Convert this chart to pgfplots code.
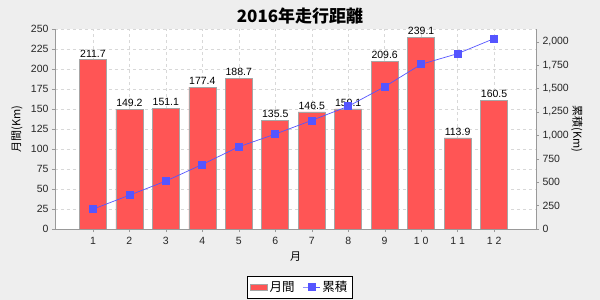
\documentclass[border=0pt]{standalone}
\usepackage{fontspec}
\setmainfont{Liberation Sans}
\newfontfamily\jp{Noto Sans CJK JP}
\usepackage{pgfplots}
\pgfplotsset{compat=1.18}
\definecolor{bg}{HTML}{EEEEEE}
\definecolor{barred}{HTML}{FF5555}
\definecolor{lineblue}{HTML}{5555FF}
\definecolor{axgray}{HTML}{999999}
\definecolor{gridgray}{HTML}{D8D8D8}
\begin{document}
\begin{tikzpicture}[x=1pt,y=1pt]
\fill[bg] (0,0) rectangle (600,300);
\useasboundingbox (0,0) rectangle (600,300);
\node[font=\jp\bfseries\fontsize{17}{20}\selectfont] at (300,284) {2016年走行距離};
\begin{axis}[
  at={(55pt,71pt)}, anchor=south west,
  scale only axis, width=481pt, height=200pt,
  xmin=-0.04, xmax=13.15,
  ymin=0, ymax=250,
  axis background/.style={fill=white},
  axis y line*=left,
  axis x line*=bottom,
  axis line style={axgray},
  xtick={1,...,12},
  xticklabels={1,2,3,4,5,6,7,8,9,1 0,1 1,1 2},
  ytick={0,25,...,250},
  tick style={axgray},
  tick align=outside,
  major tick length=3pt,
  ymajorgrids, xmajorgrids,
  grid style={gridgray, dashed, line width=0.4pt},
  tick label style={font=\fontsize{10.5}{12}\selectfont, text=black!85},
  /pgf/number format/assume math mode=true,
  ylabel={\jp 月間(Km)},
  ylabel style={font=\fontsize{11}{13}\selectfont, anchor=center, at={(axis description cs:-0.079,0.5)}},
  xlabel={\jp 月},
  xlabel style={font=\fontsize{11}{13}\selectfont, anchor=center, at={(axis description cs:0.5,-0.14)}},
  xticklabel style={yshift=-2pt},
  nodes near coords,
  nodes near coords style={font=\fontsize{10.5}{12}\selectfont, /pgf/number format/fixed, /pgf/number format/fixed zerofill, /pgf/number format/precision=1, /pgf/number format/assume math mode=true, yshift=-1pt},
]
\addplot[ybar, bar width=27pt, fill=barred, draw=black!35, line width=0.6pt] coordinates {
(1,211.7) (2,149.2) (3,151.1) (4,177.4) (5,188.7) (6,135.5)
(7,146.5) (8,150.1) (9,209.6) (10,239.1) (11,113.9) (12,160.5)};
\end{axis}
\begin{axis}[
  at={(55pt,71pt)}, anchor=south west,
  scale only axis, width=481pt, height=200pt,
  xmin=-0.04, xmax=13.15,
  ymin=0, ymax=2136,
  axis y line*=right,
  axis x line=none,
  axis line style={axgray},
  ytick={0,250,...,2000},
  tick style={axgray},
  tick align=outside,
  major tick length=3pt,
  tick label style={font=\fontsize{10.5}{12}\selectfont, text=black!85},
  /pgf/number format/assume math mode=true,
  /pgf/number format/1000 sep={,},
  ylabel={\jp 累積(Km)},
  ylabel style={font=\fontsize{11}{13}\selectfont, rotate=180, anchor=center, at={(axis description cs:1.085,0.5)}},
  legend style={at={(0.509,-0.29)}, anchor=center, draw=black, fill=white, font=\jp\fontsize{12.5}{15}\selectfont, legend columns=2, /tikz/every even column/.append style={column sep=6pt}, inner sep=3pt},
]
\addlegendimage{area legend, fill=barred, draw=black!35}
\addlegendentry{月間}
\addplot[lineblue, line width=0.7pt, mark=square*, mark size=3.5pt, mark options={fill=lineblue, draw=lineblue}] coordinates {
(1,211.7) (2,360.9) (3,512.0) (4,689.4) (5,878.1) (6,1013.6)
(7,1160.1) (8,1310.2) (9,1519.8) (10,1758.9) (11,1872.8) (12,2033.3)};
\addlegendentry{累積}
\end{axis}
\end{tikzpicture}
\end{document}
